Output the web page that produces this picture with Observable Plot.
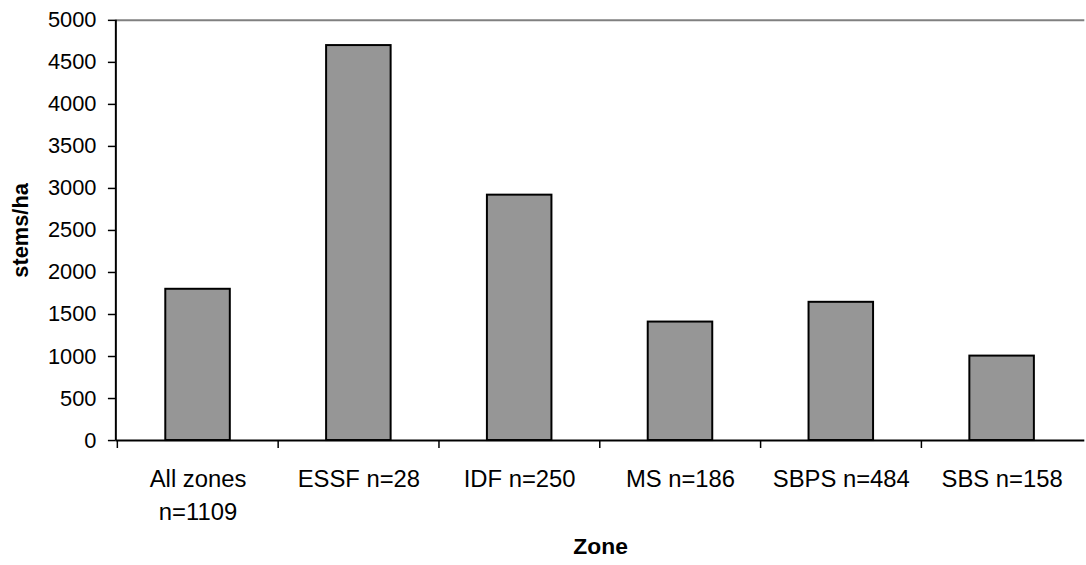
<!DOCTYPE html>
<html>
<head>
<meta charset="utf-8">
<script src="https://cdn.jsdelivr.net/npm/d3@7"></script>
<script src="https://cdn.jsdelivr.net/npm/@observablehq/plot@0.6"></script>
<style>
  html, body { margin: 0; padding: 0; background: #fff; overflow: hidden; }
  #chart svg { font-family: "Liberation Sans", Arial, sans-serif; color: #000; background: #fff; }
</style>
</head>
<body>
<div id="chart"></div>
<script>
const zones = ["All zones", "ESSF", "IDF", "MS", "SBPS", "SBS"];
const zoneN = [1109, 28, 250, 186, 484, 158];
const stemsPerHa = [1800, 4700, 2920, 1410, 1645, 1005];
const yTicks = [0, 500, 1000, 1500, 2000, 2500, 3000, 3500, 4000, 4500, 5000];
const tickLabels = ["All zones\nn=1109", "ESSF n=28", "IDF n=250", "MS n=186", "SBPS n=484", "SBS n=158"];

const data = zones.map((z, i) => ({zone: z, n: zoneN[i], value: stemsPerHa[i]}));
const labelOf = new Map(zones.map((z, i) => [z, tickLabels[i]]));

const W = 1094, H = 565;
const mL = 116.7, mR = 1.7, mT = 20, mB = 121.7;
const step = (W - mL - mR) / zones.length;

const chart = Plot.plot({
  width: W,
  height: H,
  marginLeft: mL,
  marginRight: mR,
  marginTop: mT,
  marginBottom: mB,
  style: {fontSize: "22px", fontFamily: "Liberation Sans, Arial, sans-serif", background: "#fff", color: "#000"},
  x: {type: "band", domain: zones, padding: 0, label: null},
  y: {domain: [0, 5000], label: null},
  marks: [
    Plot.ruleY([5000], {stroke: "#808080", strokeWidth: 2}),
    Plot.barY(data, {x: "zone", y: "value", fill: "#969696", stroke: "#000", strokeWidth: 2, insetLeft: 48.5, insetRight: 48.5}),
    Plot.ruleY([0], {stroke: "#000", strokeWidth: 2}),
    Plot.axisY({ticks: yTicks, tickSize: 8, tickPadding: 12, tickFormat: d => String(d), stroke: "#000", strokeWidth: 1.5, fill: "#000", fontSize: 22, letterSpacing: "0.6px"}),
    Plot.axisX({tickSize: 8, dx: -step / 2, tickFormat: () => "", stroke: "#000", strokeWidth: 1.5}),
    Plot.axisX({tickSize: 0, tickPadding: 24, tickFormat: d => labelOf.get(d), lineHeight: 1.36, fill: "#000", fontSize: 24}),
    Plot.text(["stems/ha"], {frameAnchor: "left", textAnchor: "middle", lineAnchor: "middle", dx: -96, rotate: -90, fontWeight: "bold", fill: "#000", fontSize: 22}),
    Plot.text(["Zone"], {frameAnchor: "bottom", textAnchor: "middle", lineAnchor: "middle", dy: 107, fontWeight: "bold", fill: "#000", fontSize: 23})
  ]
});

// y axis line
d3.select(chart).append("line")
  .attr("x1", mL).attr("x2", mL)
  .attr("y1", mT).attr("y2", H - mB)
  .attr("stroke", "#000").attr("stroke-width", 2);

document.getElementById("chart").appendChild(chart);
</script>
</body>
</html>
